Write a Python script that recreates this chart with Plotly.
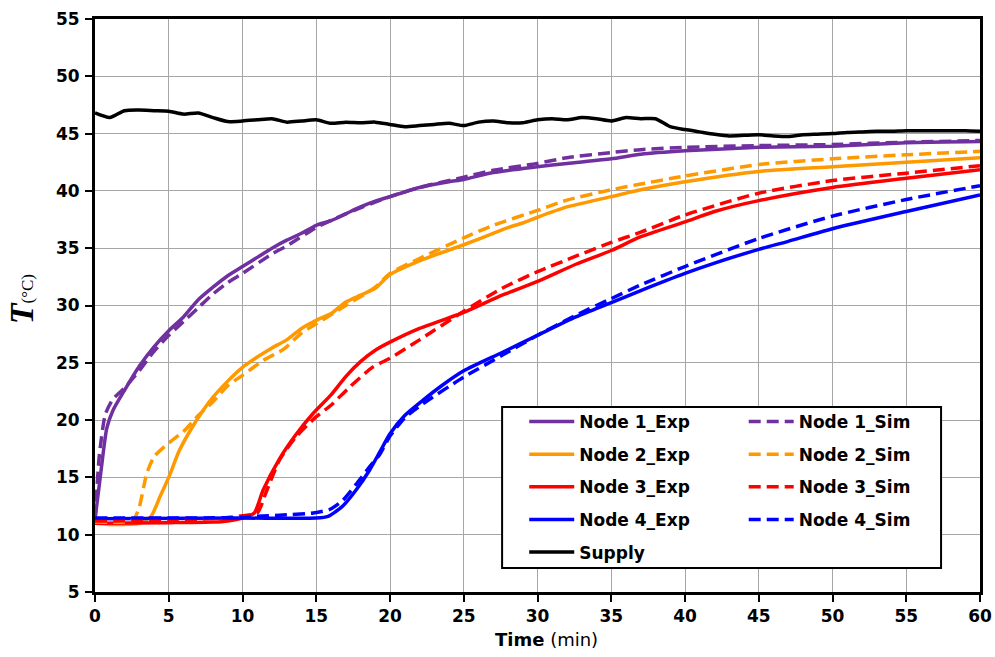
import plotly.graph_objects as go

# ---------------- data ----------------
t_n1_exp = [0, 0.4, 0.8, 1.2, 2, 3, 4, 5, 6, 7, 8, 9, 10, 11, 12, 13, 14, 15, 16, 17, 18, 19, 20, 22, 24, 25, 27, 30, 32, 35, 37, 40, 45, 50, 55, 60]
T_n1_exp = [11.3, 15.5, 19.3, 20.8, 22.6, 24.7, 26.4, 27.8, 29.0, 30.5, 31.6, 32.6, 33.4, 34.2, 35.0, 35.7, 36.3, 37.0, 37.4, 38.0, 38.6, 39.1, 39.5, 40.3, 40.8, 41.0, 41.6, 42.1, 42.4, 42.8, 43.2, 43.5, 43.8, 43.9, 44.2, 44.3]

t_n1_sim = [0, 0.3, 0.7, 1.2, 2, 3, 4, 5, 6, 7, 8, 9, 10, 12, 13, 15, 17, 20, 22, 25, 27, 30, 32, 35, 37, 40, 45, 50, 55, 60]
T_n1_sim = [11.3, 17.0, 20.5, 21.8, 22.8, 24.3, 26.0, 27.4, 28.6, 29.8, 31.0, 32.0, 32.8, 34.5, 35.2, 36.8, 38.0, 39.5, 40.3, 41.2, 41.8, 42.4, 42.9, 43.35, 43.6, 43.8, 43.95, 44.05, 44.25, 44.4]

t_n2_exp = [0, 1, 2, 3, 3.8, 4.4, 5, 5.7, 6.6, 7.3, 8, 9, 10, 11, 12, 13, 14, 15, 16, 17, 18, 19, 20, 22, 25, 27, 28, 29, 30, 32, 35, 37, 40, 45, 50, 55, 60]
T_n2_exp = [11.0, 10.9, 10.9, 11.0, 11.6, 13.3, 15.0, 17.3, 19.4, 20.8, 22.0, 23.4, 24.6, 25.5, 26.3, 27.0, 28.0, 28.7, 29.3, 30.3, 30.9, 31.5, 32.7, 33.9, 35.3, 36.3, 36.8, 37.2, 37.7, 38.6, 39.5, 40.1, 40.8, 41.7, 42.1, 42.5, 42.9]

t_n2_sim = [0, 2, 2.6, 3.0, 3.5, 4.0, 5, 6, 7, 8, 9, 10, 11.4, 12.8, 14, 15, 17, 19, 20, 22, 25, 27, 30, 32, 35, 37, 40, 45, 50, 55, 60]
T_n2_sim = [11.1, 11.1, 11.3, 12.4, 15.3, 16.8, 18.0, 19.0, 20.4, 21.6, 23.0, 23.9, 25.2, 26.2, 27.6, 28.4, 30.0, 31.6, 32.8, 34.1, 35.9, 37.0, 38.3, 39.2, 40.1, 40.6, 41.3, 42.3, 42.8, 43.15, 43.45]

t_n3_exp = [0, 5, 8, 9, 10, 10.8, 11.4, 12.5, 13.6, 14.8, 16, 17, 18, 19, 20, 22, 25, 27.6, 30, 32.6, 35, 37, 40, 42, 45, 50, 55, 60]
T_n3_exp = [11.0, 11.05, 11.1, 11.2, 11.45, 11.9, 13.9, 16.6, 18.7, 20.6, 22.2, 23.8, 25.1, 26.1, 26.8, 28.0, 29.4, 30.9, 32.1, 33.6, 34.8, 36.0, 37.3, 38.2, 39.15, 40.3, 41.1, 41.85]

t_n3_sim = [0, 5, 9, 10, 11, 11.6, 12.5, 13.6, 15, 16, 17.2, 18.8, 20, 22, 25, 27.6, 30, 32.6, 35, 37, 40, 45, 50, 55, 60]
T_n3_sim = [11.2, 11.25, 11.5, 11.65, 11.9, 13.7, 16.5, 18.5, 20.3, 21.3, 22.8, 24.6, 25.4, 27.0, 29.5, 31.5, 32.95, 34.3, 35.5, 36.4, 37.9, 39.8, 40.9, 41.55, 42.2]

t_n4_exp = [0, 10, 15, 15.8, 16.3, 16.8, 17.7, 18.6, 19.3, 20, 21, 22.2, 23.5, 25, 27.6, 30, 32.6, 35, 37, 40, 42, 45, 47, 50, 55, 60]
T_n4_exp = [11.4, 11.45, 11.45, 11.6, 12.0, 12.5, 13.9, 15.6, 17.2, 18.8, 20.4, 21.7, 23.0, 24.3, 25.9, 27.4, 29.0, 30.25, 31.3, 32.8, 33.7, 34.9, 35.6, 36.7, 38.2, 39.65]

t_n4_sim = [0, 10, 11, 12.5, 14.8, 15.9, 16.8, 17.7, 18.6, 19.3, 20, 21, 22.2, 25, 27.6, 30, 32.6, 35, 37, 40, 45, 50, 55, 60]
T_n4_sim = [11.45, 11.5, 11.6, 11.7, 11.9, 12.2, 13.0, 14.4, 15.9, 17.0, 18.6, 20.2, 21.4, 23.75, 25.65, 27.4, 29.15, 30.6, 31.8, 33.4, 35.85, 37.8, 39.25, 40.45]

t_supply = [0, 1, 2, 3, 4, 5, 6, 7, 8, 9, 10, 11, 12, 13, 14, 15, 16, 17, 18, 19, 20, 21, 22, 23, 24, 25, 26, 27, 28, 29, 30, 31, 32, 33, 34, 35, 36, 37, 38, 39, 40, 41, 42, 43, 44, 45, 46, 47, 48, 49, 50, 51, 52, 53, 54, 55, 56, 57, 58, 59, 60]
T_supply = [46.8, 46.4, 47.0, 47.05, 47.0, 46.95, 46.7, 46.8, 46.4, 46.05, 46.1, 46.2, 46.3, 46.0, 46.1, 46.2, 45.9, 46.0, 45.95, 46.0, 45.8, 45.6, 45.7, 45.8, 45.9, 45.7, 46.0, 46.1, 45.95, 45.95, 46.2, 46.3, 46.2, 46.4, 46.3, 46.1, 46.4, 46.3, 46.3, 45.6, 45.35, 45.15, 44.95, 44.8, 44.85, 44.9, 44.8, 44.75, 44.9, 44.95, 45.0, 45.1, 45.15, 45.2, 45.2, 45.25, 45.25, 45.25, 45.25, 45.25, 45.2]

x_ticks = list(range(0, 61, 5))
y_ticks = list(range(5, 56, 5))

PURPLE = "#7030A0"
ORANGE = "#FF9900"
RED = "#FF0000"
BLUE = "#0000FF"
BLACK = "#000000"
DASH = "12px,6px"

fig = go.Figure()

series = [
    ("Node 1_Exp", t_n1_exp, T_n1_exp, PURPLE, "solid", "legend"),
    ("Node 2_Exp", t_n2_exp, T_n2_exp, ORANGE, "solid", "legend"),
    ("Node 3_Exp", t_n3_exp, T_n3_exp, RED, "solid", "legend"),
    ("Node 4_Exp", t_n4_exp, T_n4_exp, BLUE, "solid", "legend"),
    ("Supply", t_supply, T_supply, BLACK, "solid", "legend"),
    ("Node 1_Sim", t_n1_sim, T_n1_sim, PURPLE, DASH, "legend2"),
    ("Node 2_Sim", t_n2_sim, T_n2_sim, ORANGE, DASH, "legend2"),
    ("Node 3_Sim", t_n3_sim, T_n3_sim, RED, DASH, "legend2"),
    ("Node 4_Sim", t_n4_sim, T_n4_sim, BLUE, DASH, "legend2"),
]

for name, xs, ys, col, dash, leg in series:
    fig.add_trace(go.Scatter(
        x=xs, y=ys, name=name, mode="lines",
        line=dict(color=col, width=3.5, dash=dash, shape="spline", smoothing=0.6),
        legend=leg, legendgroup=name,
    ))

FONT = "DejaVu Sans, Arial, sans-serif"
legend_common = dict(
    bgcolor="rgba(0,0,0,0)", borderwidth=0, orientation="v",
    font=dict(family=FONT, size=17, color="black", weight="bold"),
    tracegroupgap=7.5, itemwidth=45, xanchor="left", yanchor="top",
)

fig.update_layout(
    width=995, height=657,
    margin=dict(l=95, r=15, t=19, b=65, autoexpand=False),
    plot_bgcolor="white", paper_bgcolor="white",
    showlegend=True,
    legend=dict(x=0.485, y=0.328, **legend_common),
    legend2=dict(x=0.733, y=0.328, **legend_common),
    shapes=[dict(type="rect", xref="paper", yref="paper",
                 x0=0.46, x1=0.956, y0=0.042, y1=0.323,
                 line=dict(color="black", width=2), fillcolor="white", layer="above")],
    annotations=[
        dict(text="<b>Time</b> (min)", xref="paper", yref="paper", x=0.51, y=-0.083,
             xanchor="center", yanchor="middle", showarrow=False,
             font=dict(family=FONT, size=18, color="black")),
        dict(text="<i><b>T</b></i><span style='font-size:17px'>(°C)</span>", xref="paper", yref="paper",
             x=-0.083, y=0.51, xanchor="center", yanchor="middle", showarrow=False, textangle=-90,
             font=dict(family="Times New Roman, Liberation Serif, serif", size=34, color="black")),
    ],
)

fig.update_xaxes(
    range=[0, 60], tickvals=x_ticks, ticktext=[str(v) for v in x_ticks],
    showgrid=True, gridcolor="#A6A6A6", gridwidth=1,
    showline=True, linecolor="black", linewidth=3, mirror=True,
    ticks="outside", ticklen=7, tickwidth=2, tickcolor="black",
    tickfont=dict(family=FONT, size=17, color="black", weight="bold"),
    automargin=False, zeroline=False,
)
fig.update_yaxes(
    range=[5, 55], tickvals=y_ticks, ticktext=[str(v) for v in y_ticks],
    showgrid=True, gridcolor="#A6A6A6", gridwidth=1,
    showline=True, linecolor="black", linewidth=3, mirror=True,
    ticks="outside", ticklen=7, tickwidth=2, tickcolor="black",
    tickfont=dict(family=FONT, size=17, color="black", weight="bold"),
    ticklabelstandoff=2,
    automargin=False, zeroline=False,
)

fig.write_html("out.html")
